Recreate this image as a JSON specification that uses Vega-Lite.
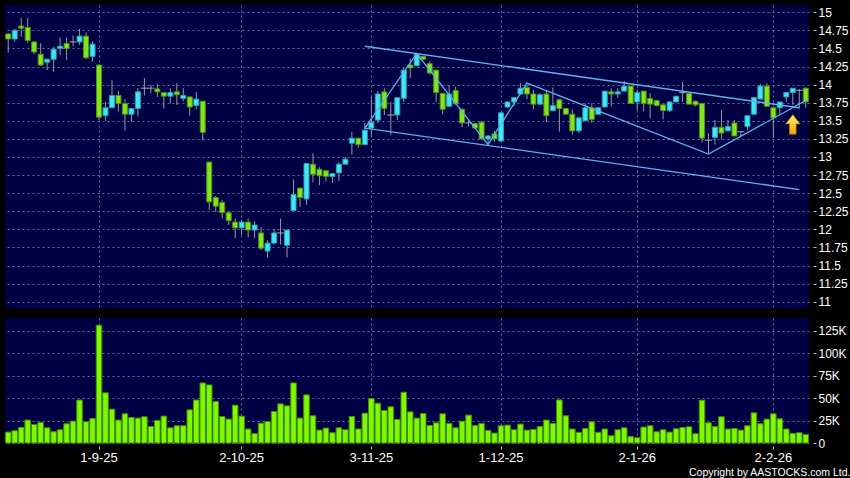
{
  "$schema": "https://vega.github.io/schema/vega-lite/v6.json",
  "background": "#000000",
  "padding": {"left": 4, "top": 5, "right": 0, "bottom": 0},
  "spacing": 10,
  "config": {
    "view": {"fill": "#000044", "stroke": null},
    "axis": {"labelColor": "#ffffff", "labelFont": "Liberation Sans", "gridColor": "#6a6aa0", "gridDash": [2, 3], "gridWidth": 1, "domain": false, "tickColor": "#c0c0c0", "title": null, "labelOverlap": false, "labelBound": false}
  },
  "datasets": {
    "px": [
      {"d": "12-8-25", "o": 14.70, "h": 14.71, "l": 14.44, "c": 14.63, "v": 12200},
      {"d": "13-8-25", "o": 14.63, "h": 14.77, "l": 14.59, "c": 14.75, "v": 13700},
      {"d": "14-8-25", "o": 14.81, "h": 14.92, "l": 14.66, "c": 14.78, "v": 17400},
      {"d": "15-8-25", "o": 14.79, "h": 14.92, "l": 14.58, "c": 14.61, "v": 25600},
      {"d": "18-8-25", "o": 14.59, "h": 14.60, "l": 14.42, "c": 14.45, "v": 20700},
      {"d": "19-8-25", "o": 14.42, "h": 14.57, "l": 14.26, "c": 14.27, "v": 23000},
      {"d": "20-8-25", "o": 14.31, "h": 14.36, "l": 14.20, "c": 14.35, "v": 17000},
      {"d": "21-8-25", "o": 14.35, "h": 14.52, "l": 14.18, "c": 14.49, "v": 12600},
      {"d": "22-8-25", "o": 14.50, "h": 14.65, "l": 14.41, "c": 14.53, "v": 14800},
      {"d": "25-8-25", "o": 14.57, "h": 14.65, "l": 14.34, "c": 14.50, "v": 21500},
      {"d": "26-8-25", "o": 14.59, "h": 14.68, "l": 14.53, "c": 14.59, "v": 24400},
      {"d": "27-8-25", "o": 14.59, "h": 14.77, "l": 14.55, "c": 14.67, "v": 48000},
      {"d": "28-8-25", "o": 14.67, "h": 14.72, "l": 14.35, "c": 14.37, "v": 23700},
      {"d": "29-8-25", "o": 14.39, "h": 14.60, "l": 14.32, "c": 14.56, "v": 27400},
      {"d": "1-9-25", "o": 14.27, "h": 14.28, "l": 13.51, "c": 13.55, "v": 131500},
      {"d": "2-9-25", "o": 13.57, "h": 13.76, "l": 13.50, "c": 13.68, "v": 56000},
      {"d": "3-9-25", "o": 13.68, "h": 14.06, "l": 13.68, "c": 13.85, "v": 37800},
      {"d": "4-9-25", "o": 13.85, "h": 13.91, "l": 13.63, "c": 13.74, "v": 25600},
      {"d": "5-9-25", "o": 13.74, "h": 13.80, "l": 13.36, "c": 13.59, "v": 32600},
      {"d": "8-9-25", "o": 13.59, "h": 13.67, "l": 13.49, "c": 13.67, "v": 28500},
      {"d": "9-9-25", "o": 13.67, "h": 13.95, "l": 13.56, "c": 13.90, "v": 27800},
      {"d": "10-9-25", "o": 13.95, "h": 14.09, "l": 13.85, "c": 13.95, "v": 29300},
      {"d": "11-9-25", "o": 13.95, "h": 14.00, "l": 13.88, "c": 13.95, "v": 18500},
      {"d": "12-9-25", "o": 13.94, "h": 14.01, "l": 13.83, "c": 13.90, "v": 25200},
      {"d": "15-9-25", "o": 13.89, "h": 13.89, "l": 13.67, "c": 13.84, "v": 30000},
      {"d": "16-9-25", "o": 13.84, "h": 13.95, "l": 13.74, "c": 13.89, "v": 17000},
      {"d": "17-9-25", "o": 13.90, "h": 14.02, "l": 13.72, "c": 13.86, "v": 19300},
      {"d": "18-9-25", "o": 13.81, "h": 13.95, "l": 13.77, "c": 13.85, "v": 19300},
      {"d": "19-9-25", "o": 13.83, "h": 13.83, "l": 13.57, "c": 13.69, "v": 37000},
      {"d": "22-9-25", "o": 13.71, "h": 13.90, "l": 13.66, "c": 13.80, "v": 48000},
      {"d": "23-9-25", "o": 13.77, "h": 13.77, "l": 13.23, "c": 13.34, "v": 67000},
      {"d": "24-9-25", "o": 12.93, "h": 12.93, "l": 12.27, "c": 12.38, "v": 64800},
      {"d": "25-9-25", "o": 12.44, "h": 12.46, "l": 12.24, "c": 12.32, "v": 46300},
      {"d": "26-9-25", "o": 12.37, "h": 12.40, "l": 12.15, "c": 12.23, "v": 29600},
      {"d": "29-9-25", "o": 12.23, "h": 12.23, "l": 12.06, "c": 12.12, "v": 26700},
      {"d": "30-9-25", "o": 12.10, "h": 12.15, "l": 11.88, "c": 12.02, "v": 42200},
      {"d": "2-10-25", "o": 12.02, "h": 12.13, "l": 11.92, "c": 12.10, "v": 30000},
      {"d": "3-10-25", "o": 12.10, "h": 12.15, "l": 11.89, "c": 11.99, "v": 15600},
      {"d": "6-10-25", "o": 11.99, "h": 12.11, "l": 11.88, "c": 12.06, "v": 10400},
      {"d": "8-10-25", "o": 11.95, "h": 12.03, "l": 11.71, "c": 11.74, "v": 22200},
      {"d": "9-10-25", "o": 11.70, "h": 11.85, "l": 11.61, "c": 11.81, "v": 24000},
      {"d": "10-10-25", "o": 11.81, "h": 12.00, "l": 11.79, "c": 11.95, "v": 35200},
      {"d": "13-10-25", "o": 11.95, "h": 12.15, "l": 11.79, "c": 11.95, "v": 43700},
      {"d": "14-10-25", "o": 11.78, "h": 11.99, "l": 11.61, "c": 11.99, "v": 41500},
      {"d": "15-10-25", "o": 12.26, "h": 12.69, "l": 12.26, "c": 12.48, "v": 67000},
      {"d": "16-10-25", "o": 12.57, "h": 12.57, "l": 12.31, "c": 12.44, "v": 27800},
      {"d": "17-10-25", "o": 12.42, "h": 12.91, "l": 12.34, "c": 12.91, "v": 53700},
      {"d": "20-10-25", "o": 12.90, "h": 13.05, "l": 12.65, "c": 12.76, "v": 30400},
      {"d": "21-10-25", "o": 12.83, "h": 12.86, "l": 12.61, "c": 12.74, "v": 14400},
      {"d": "22-10-25", "o": 12.81, "h": 12.82, "l": 12.66, "c": 12.73, "v": 16700},
      {"d": "23-10-25", "o": 12.73, "h": 12.77, "l": 12.64, "c": 12.77, "v": 11500},
      {"d": "24-10-25", "o": 12.78, "h": 12.93, "l": 12.67, "c": 12.90, "v": 17000},
      {"d": "27-10-25", "o": 12.90, "h": 13.00, "l": 12.90, "c": 12.97, "v": 14800},
      {"d": "28-10-25", "o": 13.19, "h": 13.35, "l": 13.03, "c": 13.26, "v": 29600},
      {"d": "30-10-25", "o": 13.26, "h": 13.26, "l": 13.13, "c": 13.17, "v": 15600},
      {"d": "31-10-25", "o": 13.17, "h": 13.47, "l": 13.17, "c": 13.37, "v": 33300},
      {"d": "3-11-25", "o": 13.40, "h": 13.83, "l": 13.28, "c": 13.48, "v": 49600},
      {"d": "4-11-25", "o": 13.51, "h": 13.91, "l": 13.47, "c": 13.87, "v": 44400},
      {"d": "5-11-25", "o": 13.90, "h": 13.95, "l": 13.58, "c": 13.67, "v": 36300},
      {"d": "6-11-25", "o": 13.58, "h": 13.76, "l": 13.30, "c": 13.58, "v": 40400},
      {"d": "7-11-25", "o": 13.58, "h": 13.82, "l": 13.51, "c": 13.82, "v": 26300},
      {"d": "10-11-25", "o": 13.81, "h": 14.23, "l": 13.76, "c": 14.20, "v": 56700},
      {"d": "11-11-25", "o": 14.27, "h": 14.36, "l": 14.09, "c": 14.23, "v": 34800},
      {"d": "12-11-25", "o": 14.26, "h": 14.43, "l": 14.26, "c": 14.42, "v": 27800},
      {"d": "13-11-25", "o": 14.39, "h": 14.40, "l": 14.34, "c": 14.35, "v": 33000},
      {"d": "14-11-25", "o": 14.29, "h": 14.32, "l": 14.14, "c": 14.16, "v": 19600},
      {"d": "17-11-25", "o": 14.20, "h": 14.20, "l": 13.76, "c": 13.89, "v": 22600},
      {"d": "18-11-25", "o": 13.88, "h": 13.88, "l": 13.59, "c": 13.66, "v": 32600},
      {"d": "19-11-25", "o": 13.70, "h": 13.99, "l": 13.69, "c": 13.87, "v": 21900},
      {"d": "20-11-25", "o": 13.92, "h": 13.97, "l": 13.72, "c": 13.74, "v": 17000},
      {"d": "21-11-25", "o": 13.66, "h": 13.66, "l": 13.41, "c": 13.47, "v": 24400},
      {"d": "24-11-25", "o": 13.47, "h": 13.52, "l": 13.42, "c": 13.47, "v": 31100},
      {"d": "25-11-25", "o": 13.46, "h": 13.47, "l": 13.39, "c": 13.40, "v": 19600},
      {"d": "26-11-25", "o": 13.48, "h": 13.50, "l": 13.24, "c": 13.25, "v": 21900},
      {"d": "27-11-25", "o": 13.25, "h": 13.30, "l": 13.17, "c": 13.29, "v": 14100},
      {"d": "28-11-25", "o": 13.32, "h": 13.36, "l": 13.21, "c": 13.25, "v": 11100},
      {"d": "1-12-25", "o": 13.22, "h": 13.62, "l": 13.22, "c": 13.61, "v": 19300},
      {"d": "2-12-25", "o": 13.69, "h": 13.77, "l": 13.68, "c": 13.76, "v": 20000},
      {"d": "3-12-25", "o": 13.76, "h": 13.82, "l": 13.70, "c": 13.82, "v": 14800},
      {"d": "4-12-25", "o": 13.87, "h": 14.02, "l": 13.86, "c": 13.95, "v": 21100},
      {"d": "5-12-25", "o": 13.96, "h": 14.00, "l": 13.80, "c": 13.87, "v": 14400},
      {"d": "8-12-25", "o": 13.87, "h": 13.93, "l": 13.66, "c": 13.73, "v": 15200},
      {"d": "9-12-25", "o": 13.73, "h": 13.88, "l": 13.72, "c": 13.86, "v": 18500},
      {"d": "10-12-25", "o": 13.87, "h": 13.91, "l": 13.48, "c": 13.57, "v": 25600},
      {"d": "11-12-25", "o": 13.64, "h": 13.96, "l": 13.63, "c": 13.71, "v": 21900},
      {"d": "12-12-25", "o": 13.79, "h": 13.80, "l": 13.35, "c": 13.67, "v": 48100},
      {"d": "15-12-25", "o": 13.67, "h": 13.68, "l": 13.58, "c": 13.59, "v": 30400},
      {"d": "16-12-25", "o": 13.59, "h": 13.66, "l": 13.31, "c": 13.36, "v": 15600},
      {"d": "17-12-25", "o": 13.36, "h": 13.55, "l": 13.33, "c": 13.54, "v": 11900},
      {"d": "18-12-25", "o": 13.50, "h": 13.74, "l": 13.50, "c": 13.68, "v": 16300},
      {"d": "19-12-25", "o": 13.68, "h": 13.74, "l": 13.47, "c": 13.52, "v": 23700},
      {"d": "22-12-25", "o": 13.59, "h": 13.69, "l": 13.58, "c": 13.68, "v": 11900},
      {"d": "23-12-25", "o": 13.69, "h": 13.91, "l": 13.69, "c": 13.91, "v": 15600},
      {"d": "24-12-25", "o": 13.90, "h": 13.95, "l": 13.70, "c": 13.87, "v": 8100},
      {"d": "29-12-25", "o": 13.87, "h": 13.95, "l": 13.82, "c": 13.90, "v": 14800},
      {"d": "30-12-25", "o": 13.91, "h": 14.05, "l": 13.91, "c": 13.98, "v": 17000},
      {"d": "31-12-25", "o": 13.98, "h": 13.98, "l": 13.74, "c": 13.74, "v": 7400},
      {"d": "2-1-26", "o": 13.76, "h": 13.93, "l": 13.64, "c": 13.89, "v": 5900},
      {"d": "5-1-26", "o": 13.91, "h": 13.91, "l": 13.63, "c": 13.74, "v": 17800},
      {"d": "6-1-26", "o": 13.81, "h": 13.88, "l": 13.54, "c": 13.73, "v": 19300},
      {"d": "7-1-26", "o": 13.78, "h": 13.79, "l": 13.70, "c": 13.71, "v": 12600},
      {"d": "8-1-26", "o": 13.72, "h": 13.73, "l": 13.52, "c": 13.64, "v": 14800},
      {"d": "9-1-26", "o": 13.64, "h": 13.77, "l": 13.62, "c": 13.76, "v": 12200},
      {"d": "12-1-26", "o": 13.76, "h": 13.84, "l": 13.76, "c": 13.84, "v": 15900},
      {"d": "13-1-26", "o": 13.89, "h": 14.04, "l": 13.76, "c": 13.89, "v": 17400},
      {"d": "14-1-26", "o": 13.88, "h": 13.90, "l": 13.73, "c": 13.73, "v": 18100},
      {"d": "15-1-26", "o": 13.77, "h": 13.78, "l": 13.70, "c": 13.72, "v": 10400},
      {"d": "16-1-26", "o": 13.74, "h": 13.74, "l": 13.20, "c": 13.26, "v": 47800},
      {"d": "19-1-26", "o": 13.23, "h": 13.33, "l": 13.05, "c": 13.23, "v": 22600},
      {"d": "20-1-26", "o": 13.27, "h": 13.51, "l": 13.17, "c": 13.41, "v": 18500},
      {"d": "21-1-26", "o": 13.41, "h": 13.65, "l": 13.24, "c": 13.33, "v": 29300},
      {"d": "22-1-26", "o": 13.36, "h": 13.51, "l": 13.36, "c": 13.42, "v": 15600},
      {"d": "23-1-26", "o": 13.47, "h": 13.51, "l": 13.29, "c": 13.29, "v": 16300},
      {"d": "26-1-26", "o": 13.35, "h": 13.36, "l": 13.28, "c": 13.35, "v": 14400},
      {"d": "27-1-26", "o": 13.42, "h": 13.58, "l": 13.37, "c": 13.57, "v": 19300},
      {"d": "28-1-26", "o": 13.59, "h": 13.82, "l": 13.59, "c": 13.82, "v": 33700},
      {"d": "29-1-26", "o": 13.80, "h": 14.01, "l": 13.80, "c": 13.98, "v": 21500},
      {"d": "30-1-26", "o": 13.98, "h": 14.02, "l": 13.70, "c": 13.70, "v": 26700},
      {"d": "2-2-26", "o": 13.68, "h": 13.69, "l": 13.26, "c": 13.54, "v": 32600},
      {"d": "3-2-26", "o": 13.68, "h": 13.76, "l": 13.58, "c": 13.76, "v": 27000},
      {"d": "4-2-26", "o": 13.83, "h": 13.90, "l": 13.76, "c": 13.89, "v": 15600},
      {"d": "5-2-26", "o": 13.89, "h": 13.95, "l": 13.72, "c": 13.95, "v": 10700},
      {"d": "6-2-26", "o": 13.92, "h": 13.94, "l": 13.67, "c": 13.92, "v": 11500},
      {"d": "9-2-26", "o": 13.95, "h": 13.96, "l": 13.68, "c": 13.76, "v": 9600}
    ],
    "tl": [
      {"g": "upper", "k": 0, "d": "31-10-25", "p": 14.53},
      {"g": "upper", "k": 1, "d": "6-2-26", "p": 13.68},
      {"g": "lower", "k": 0, "d": "31-10-25", "p": 13.40},
      {"g": "lower", "k": 1, "d": "6-2-26", "p": 12.55},
      {"g": "zig", "k": 0, "d": "31-10-25", "p": 13.40},
      {"g": "zig", "k": 1, "d": "12-11-25", "p": 14.43},
      {"g": "zig", "k": 2, "d": "27-11-25", "p": 13.17},
      {"g": "zig", "k": 3, "d": "5-12-25", "p": 14.02},
      {"g": "zig", "k": 4, "d": "19-1-26", "p": 13.04},
      {"g": "zig", "k": 5, "d": "9-2-26", "p": 13.78}
    ],
    "ar": [
      {"d": "5-2-26", "p": 13.45}
    ]
  },
  "vconcat": [
    {
      "width": 804,
      "height": 303,
      "layer": [
        {
          "data": {"name": "px"},
          "mark": {"type": "rule", "color": "#9a9a9a", "strokeWidth": 1},
          "encoding": {
            "x": {
              "field": "d", "type": "ordinal",
              "scale": {"type": "band", "paddingInner": 0, "paddingOuter": 0, "domain": ["12-8-25","13-8-25","14-8-25","15-8-25","18-8-25","19-8-25","20-8-25","21-8-25","22-8-25","25-8-25","26-8-25","27-8-25","28-8-25","29-8-25","1-9-25","2-9-25","3-9-25","4-9-25","5-9-25","8-9-25","9-9-25","10-9-25","11-9-25","12-9-25","15-9-25","16-9-25","17-9-25","18-9-25","19-9-25","22-9-25","23-9-25","24-9-25","25-9-25","26-9-25","29-9-25","30-9-25","2-10-25","3-10-25","6-10-25","8-10-25","9-10-25","10-10-25","13-10-25","14-10-25","15-10-25","16-10-25","17-10-25","20-10-25","21-10-25","22-10-25","23-10-25","24-10-25","27-10-25","28-10-25","30-10-25","31-10-25","3-11-25","4-11-25","5-11-25","6-11-25","7-11-25","10-11-25","11-11-25","12-11-25","13-11-25","14-11-25","17-11-25","18-11-25","19-11-25","20-11-25","21-11-25","24-11-25","25-11-25","26-11-25","27-11-25","28-11-25","1-12-25","2-12-25","3-12-25","4-12-25","5-12-25","8-12-25","9-12-25","10-12-25","11-12-25","12-12-25","15-12-25","16-12-25","17-12-25","18-12-25","19-12-25","22-12-25","23-12-25","24-12-25","29-12-25","30-12-25","31-12-25","2-1-26","5-1-26","6-1-26","7-1-26","8-1-26","9-1-26","12-1-26","13-1-26","14-1-26","15-1-26","16-1-26","19-1-26","20-1-26","21-1-26","22-1-26","23-1-26","26-1-26","27-1-26","28-1-26","29-1-26","30-1-26","2-2-26","3-2-26","4-2-26","5-2-26","6-2-26","9-2-26"]},
              "axis": {"values": ["1-9-25","2-10-25","3-11-25","1-12-25","2-1-26","2-2-26"], "labels": false, "ticks": false, "domain": false, "grid": true, "bandPosition": 0.5}
            },
            "y": {
              "field": "l", "type": "quantitative",
              "scale": {"domain": [10.913, 15.1], "nice": false, "zero": false},
              "axis": {"orient": "right", "values": [11,11.25,11.5,11.75,12,12.25,12.5,12.75,13,13.25,13.5,13.75,14,14.25,14.5,14.75,15], "labelExpr": "'' + datum.value", "offset": 4, "tickSize": 3, "labelPadding": 2, "labelFontSize": 12, "grid": true}
            },
            "y2": {"field": "h"}
          }
        },
        {
          "data": {"name": "px"},
          "transform": [{"filter": "datum.o != datum.c"}],
          "mark": {"type": "bar", "width": 5, "strokeWidth": 1},
          "encoding": {
            "x": {"field": "d", "type": "ordinal"},
            "y": {"field": "o", "type": "quantitative", "axis": {"orient": "right", "values": [11,11.25,11.5,11.75,12,12.25,12.5,12.75,13,13.25,13.5,13.75,14,14.25,14.5,14.75,15], "labelExpr": "'' + datum.value", "offset": 4, "tickSize": 3, "labelPadding": 2, "labelFontSize": 12, "grid": true}},
            "y2": {"field": "c"},
            "fill": {"condition": {"test": "datum.c > datum.o", "value": "#40e6f6"}, "value": "#84e41e"},
            "stroke": {"condition": {"test": "datum.c > datum.o", "value": "#2a9fb0"}, "value": "#4c9410"}
          }
        },
        {
          "data": {"name": "px"},
          "transform": [{"filter": "datum.o == datum.c"}],
          "mark": {"type": "tick", "color": "#b4b4b4", "size": 7, "thickness": 1.3},
          "encoding": {
            "x": {"field": "d", "type": "ordinal"},
            "y": {"field": "o", "type": "quantitative", "axis": {"orient": "right", "values": [11,11.25,11.5,11.75,12,12.25,12.5,12.75,13,13.25,13.5,13.75,14,14.25,14.5,14.75,15], "labelExpr": "'' + datum.value", "offset": 4, "tickSize": 3, "labelPadding": 2, "labelFontSize": 12, "grid": true}}
          }
        },
        {
          "data": {"name": "tl"},
          "mark": {"type": "line", "color": "#5ab4f0", "strokeWidth": 1.3},
          "encoding": {
            "x": {"field": "d", "type": "ordinal"},
            "y": {"field": "p", "type": "quantitative", "axis": {"orient": "right", "values": [11,11.25,11.5,11.75,12,12.25,12.5,12.75,13,13.25,13.5,13.75,14,14.25,14.5,14.75,15], "labelExpr": "'' + datum.value", "offset": 4, "tickSize": 3, "labelPadding": 2, "labelFontSize": 12, "grid": true}},
            "detail": {"field": "g"},
            "order": {"field": "k"}
          }
        },
        {
          "data": {"name": "ar"},
          "mark": {
            "type": "point",
            "shape": "M0,-1L0.74,-0.05L0.34,-0.05L0.34,1L-0.34,1L-0.34,-0.05L-0.74,-0.05Z",
            "size": 380,
            "filled": true,
            "opacity": 1,
            "fill": {"gradient": "linear", "x1": 0, "y1": 0, "x2": 0, "y2": 1, "stops": [{"offset": 0, "color": "#fff27a"}, {"offset": 1, "color": "#f0a400"}]},
            "stroke": "#b07400",
            "strokeWidth": 0.8
          },
          "encoding": {
            "x": {"field": "d", "type": "ordinal"},
            "y": {"field": "p", "type": "quantitative", "axis": {"orient": "right", "values": [11,11.25,11.5,11.75,12,12.25,12.5,12.75,13,13.25,13.5,13.75,14,14.25,14.5,14.75,15], "labelExpr": "'' + datum.value", "offset": 4, "tickSize": 3, "labelPadding": 2, "labelFontSize": 12, "grid": true}}
          }
        }
      ]
    },
    {
      "width": 804,
      "height": 125,
      "data": {"name": "px"},
      "mark": {"type": "bar", "width": {"band": 0.86}, "fill": "#80f800", "stroke": "#3f8f00", "strokeWidth": 1},
      "encoding": {
        "x": {
          "field": "d", "type": "ordinal",
          "scale": {"type": "band", "paddingInner": 0, "paddingOuter": 0, "domain": ["12-8-25","13-8-25","14-8-25","15-8-25","18-8-25","19-8-25","20-8-25","21-8-25","22-8-25","25-8-25","26-8-25","27-8-25","28-8-25","29-8-25","1-9-25","2-9-25","3-9-25","4-9-25","5-9-25","8-9-25","9-9-25","10-9-25","11-9-25","12-9-25","15-9-25","16-9-25","17-9-25","18-9-25","19-9-25","22-9-25","23-9-25","24-9-25","25-9-25","26-9-25","29-9-25","30-9-25","2-10-25","3-10-25","6-10-25","8-10-25","9-10-25","10-10-25","13-10-25","14-10-25","15-10-25","16-10-25","17-10-25","20-10-25","21-10-25","22-10-25","23-10-25","24-10-25","27-10-25","28-10-25","30-10-25","31-10-25","3-11-25","4-11-25","5-11-25","6-11-25","7-11-25","10-11-25","11-11-25","12-11-25","13-11-25","14-11-25","17-11-25","18-11-25","19-11-25","20-11-25","21-11-25","24-11-25","25-11-25","26-11-25","27-11-25","28-11-25","1-12-25","2-12-25","3-12-25","4-12-25","5-12-25","8-12-25","9-12-25","10-12-25","11-12-25","12-12-25","15-12-25","16-12-25","17-12-25","18-12-25","19-12-25","22-12-25","23-12-25","24-12-25","29-12-25","30-12-25","31-12-25","2-1-26","5-1-26","6-1-26","7-1-26","8-1-26","9-1-26","12-1-26","13-1-26","14-1-26","15-1-26","16-1-26","19-1-26","20-1-26","21-1-26","22-1-26","23-1-26","26-1-26","27-1-26","28-1-26","29-1-26","30-1-26","2-2-26","3-2-26","4-2-26","5-2-26","6-2-26","9-2-26"]},
          "axis": {"values": ["1-9-25","2-10-25","3-11-25","1-12-25","2-1-26","2-2-26"], "bandPosition": 0.5, "grid": true, "ticks": true, "tickSize": 3, "offset": 3, "labelPadding": 2, "labelFontSize": 13, "labelAngle": 0, "title": "Copyright by AASTOCKS.com Ltd.", "titleX": 845, "titleY": 29, "titleAlign": "right", "titleAnchor": null, "titleBaseline": "alphabetic", "titleColor": "#ffffff", "titleFont": "Liberation Sans", "titleFontSize": 10.5, "titleFontWeight": "normal"}
        },
        "y": {
          "field": "v", "type": "quantitative",
          "scale": {"domain": [0, 139500], "nice": false},
          "axis": {"orient": "right", "values": [0, 25000, 50000, 75000, 100000, 125000], "labelExpr": "datum.value == 0 ? '0' : (datum.value / 1000) + 'K'", "offset": 4, "tickSize": 3, "labelPadding": 2, "labelFontSize": 12, "grid": true}
        }
      }
    }
  ]
}
